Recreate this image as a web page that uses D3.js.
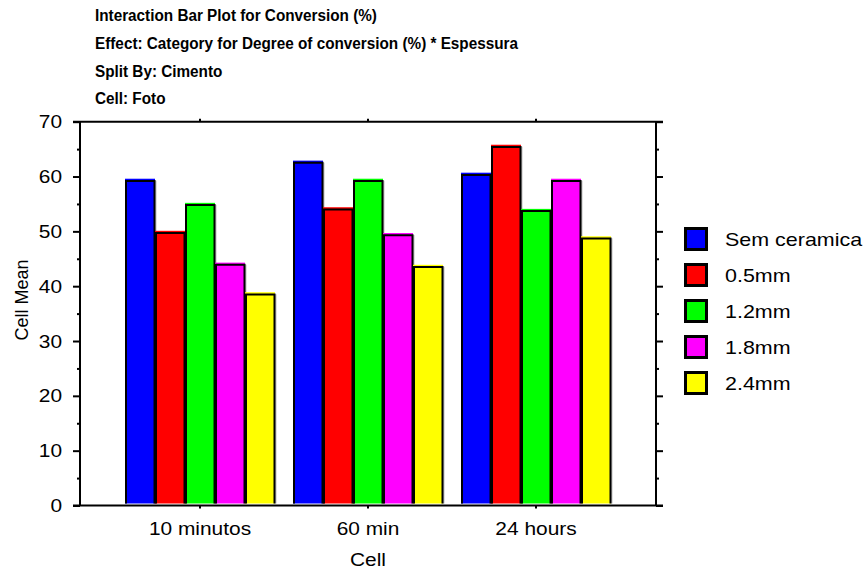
<!DOCTYPE html>
<html><head><meta charset="utf-8">
<script src="https://cdn.jsdelivr.net/npm/d3@7"></script>
<style>
body{margin:0;background:#fff;}
text{font-family:"Liberation Sans",Arial,sans-serif;fill:#000;}
</style></head>
<body><svg id="c" width="866" height="575"></svg>
<script>
const titleLines = [
  "Interaction Bar Plot for Conversion (%)",
  "Effect: Category for Degree of conversion (%) * Espessura",
  "Split By: Cimento",
  "Cell: Foto"
];
const categories = ["10 minutos", "60 min", "24 hours"];
const seriesNames = ["Sem ceramica", "0.5mm", "1.2mm", "1.8mm", "2.4mm"];
const seriesColors = ["#0000ff", "#ff0000", "#00ff00", "#ff00ff", "#ffff00"];
const semCeramica = [59.6, 62.9, 60.7];
const mm05 = [50.1, 54.4, 65.8];
const mm12 = [55.2, 59.6, 54.1];
const mm18 = [44.3, 49.7, 59.6];
const mm24 = [38.9, 43.9, 49.1];
const seriesValues = [semCeramica, mm05, mm12, mm18, mm24];
const yTicks = [0, 10, 20, 30, 40, 50, 60, 70];
const yMinorTicks = [5, 15, 25, 35, 45, 55, 65];
const yLabel = "Cell Mean";
const xLabel = "Cell";

const svg = d3.select("#c");
const L = 80, R = 656, T = 121.7, B = 505.5;

const x0 = d3.scaleBand().domain(categories).range([L, R]).paddingInner(0).paddingOuter(36/168);
const x1 = d3.scaleBand().domain(seriesNames).range([0, x0.bandwidth()]).paddingOuter(0.3).paddingInner(0);
const y = d3.scaleLinear().domain([0, 70]).range([B, T]);
const color = d3.scaleOrdinal().domain(seriesNames).range(seriesColors);

// title
svg.append("g").attr("transform", "translate(95,0) scale(0.9,1)")
  .selectAll("text").data(titleLines).join("text")
  .attr("x", 0).attr("y", (d, i) => 21 + i * 27.8)
  .attr("font-size", 17).attr("font-weight", "bold")
  .text(d => d);

// bars
const data = [];
categories.forEach((c, ci) => seriesNames.forEach((s, si) => data.push({c, s, v: seriesValues[si][ci]})));
const bw = x1.bandwidth();
const gb = svg.append("g");
data.forEach(d => {
  const bx = x0(d.c) + x1(d.s), by = y(d.v);
  gb.append("rect").attr("x", bx + bw).attr("y", by + 2).attr("width", 1.5).attr("height", B - by - 4).attr("fill", "#c0c0c0");
  gb.append("rect").attr("x", bx).attr("y", by).attr("width", bw).attr("height", B - by - 2).attr("fill", color(d.s));
  gb.append("path").attr("d", `M${bx + 1},${B - 2} V${by + 2.2} H${bx + bw - 0.5} V${B - 2}`)
    .attr("fill", "none").attr("stroke", "#000").attr("stroke-width", 2);
});

// frame axes
const axG = svg.append("g").attr("stroke", "#000").attr("stroke-width", 2);
axG.append("line").attr("x1", L - 7).attr("x2", R + 7).attr("y1", T).attr("y2", T);
axG.append("line").attr("x1", L - 7).attr("x2", R + 7).attr("y1", B).attr("y2", B);

const leftAxis = svg.append("g").attr("transform", `translate(${L},0)`)
  .call(d3.axisLeft(y).tickValues(yTicks).tickSize(7).tickPadding(11).tickFormat(d3.format("d")));
const leftMinor = svg.append("g").attr("transform", `translate(${L},0)`)
  .call(d3.axisLeft(y).tickValues(yMinorTicks).tickSize(3).tickFormat(""));
const rightAxis = svg.append("g").attr("transform", `translate(${R},0)`)
  .call(d3.axisRight(y).tickValues(yTicks).tickSize(7).tickFormat(""));
const rightMinor = svg.append("g").attr("transform", `translate(${R},0)`)
  .call(d3.axisRight(y).tickValues(yMinorTicks).tickSize(3).tickFormat(""));
const botAxis = svg.append("g").attr("transform", `translate(0,${B})`)
  .call(d3.axisBottom(x0).tickSize(3).tickPadding(13));
const topAxis = svg.append("g").attr("transform", `translate(0,${T})`)
  .call(d3.axisTop(x0).tickSize(3).tickFormat(""));
[leftAxis, leftMinor, rightAxis, rightMinor, botAxis, topAxis].forEach(g => {
  g.selectAll("path.domain").attr("stroke", "#000").attr("stroke-width", 2);
  g.selectAll(".tick line").attr("stroke", "#000").attr("stroke-width", 2);
  g.selectAll("text").attr("font-size", 19).attr("font-family", "Liberation Sans, Arial, sans-serif").attr("fill", "#000");
});
// slightly wider glyphs, as in the reference
leftAxis.selectAll(".tick text").each(function () {
  const t = d3.select(this); const xx = +t.attr("x");
  t.attr("x", xx / 1.1).attr("transform", "scale(1.1,1)");
});
botAxis.selectAll(".tick text").attr("transform", "scale(1.1,1)");
[botAxis, topAxis].forEach(g => g.select("path.domain").remove());
leftAxis.selectAll("path.domain").attr("d", `M0,${T}V${B}`);
rightAxis.selectAll("path.domain").attr("d", `M0,${T}V${B}`);
leftMinor.select("path.domain").remove();
rightMinor.select("path.domain").remove();

// axis labels
svg.append("text").attr("transform", "translate(28,300) rotate(-90)").attr("text-anchor", "middle")
  .attr("font-size", 18).text(yLabel);
svg.append("text").attr("transform", `translate(${x0(categories[1]) + x0.bandwidth() / 2},566) scale(1.1,1)`)
  .attr("text-anchor", "middle").attr("font-size", 19).text(xLabel);

// legend
const lg = svg.append("g").attr("transform", "translate(684,227)");
seriesNames.forEach((s, i) => {
  const g = lg.append("g").attr("transform", `translate(0,${i * 36})`);
  g.append("rect").attr("x", 1.5).attr("y", 1.5).attr("width", 21).attr("height", 21)
    .attr("fill", color(s)).attr("stroke", "#000").attr("stroke-width", 3);
  g.append("text").attr("transform", "translate(41,12) scale(1.13,1)").attr("dy", "0.35em")
    .attr("font-size", 19).text(s);
});
</script></body></html>
